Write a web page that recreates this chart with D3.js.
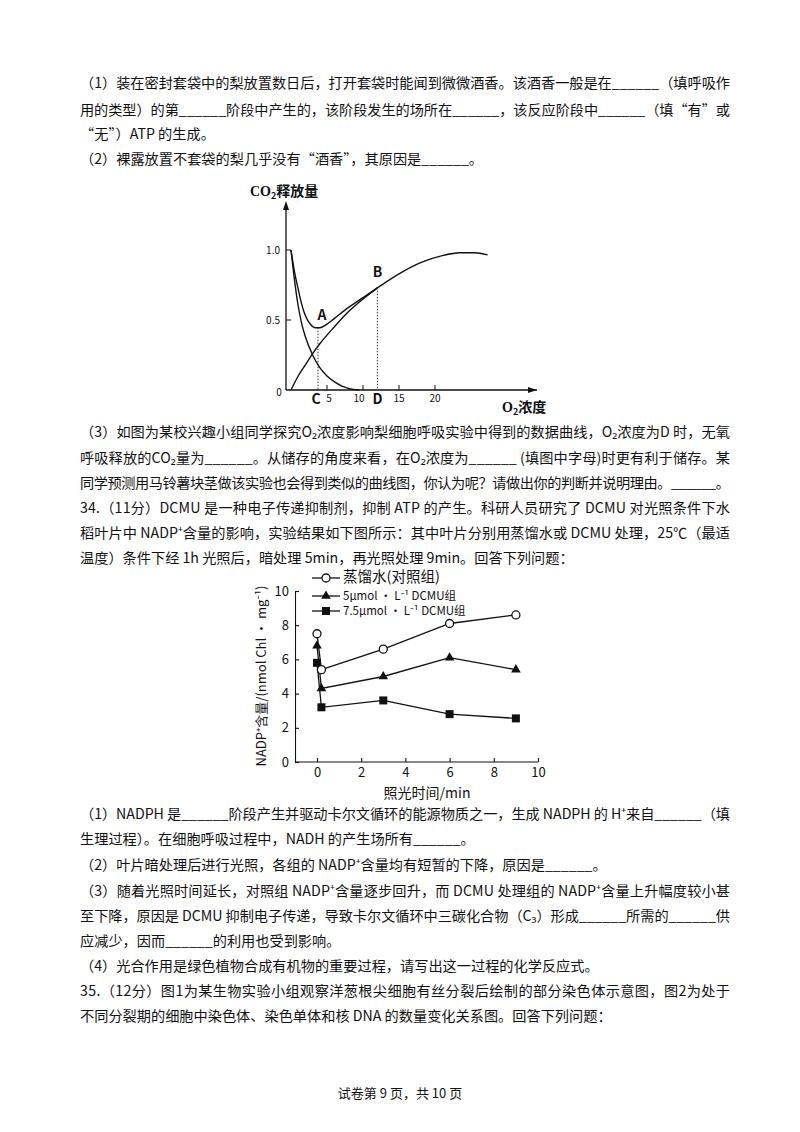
<!DOCTYPE html>
<html><head><meta charset="utf-8">
<script src="https://cdn.jsdelivr.net/npm/d3@7"></script>
<style>body{margin:0;background:#fff}svg{display:block}text{font-family:"Noto Sans CJK SC","Noto Sans",sans-serif;fill:#111}</style>
</head><body>
<script>
// ---------- page text ----------
const textLines = [
 [88,"（1）装在密封套袋中的梨放置数日后，打开套袋时能闻到微微酒香。该酒香一般是在______（填呼吸作",1],
 [115,"用的类型）的第______阶段中产生的，该阶段发生的场所在______，该反应阶段中______（填“有”或",1],
 [139,"“无”）ATP 的生成。",0],
 [164,"（2）裸露放置不套袋的梨几乎没有“酒香”，其原因是______。",0],
 [437,"（3）如图为某校兴趣小组同学探究O₂浓度影响梨细胞呼吸实验中得到的数据曲线，O₂浓度为D 时，无氧",1],
 [463,"呼吸释放的CO₂量为______。从储存的角度来看，在O₂浓度为______ (填图中字母)时更有利于储存。某",1],
 [488,"同学预测用马铃薯块茎做该实验也会得到类似的曲线图，你认为呢？请做出你的判断并说明理由。______。",1],
 [513,"34.（11分）DCMU 是一种电子传递抑制剂，抑制 ATP 的产生。科研人员研究了 DCMU 对光照条件下水",1],
 [538,"稻叶片中 NADP⁺含量的影响，实验结果如下图所示：其中叶片分别用蒸馏水或 DCMU 处理，25℃（最适",1],
 [563,"温度）条件下经 1h 光照后，暗处理 5min，再光照处理 9min。回答下列问题：",0],
 [819,"（1）NADPH 是______阶段产生并驱动卡尔文循环的能源物质之一，生成 NADPH 的 H⁺来自______（填",1],
 [844,"生理过程）。在细胞呼吸过程中，NADH 的产生场所有______。",0],
 [870,"（2）叶片暗处理后进行光照，各组的 NADP⁺含量均有短暂的下降，原因是______。",0],
 [896,"（3）随着光照时间延长，对照组 NADP⁺含量逐步回升，而 DCMU 处理组的 NADP⁺含量上升幅度较小甚",1],
 [921,"至下降，原因是 DCMU 抑制电子传递，导致卡尔文循环中三碳化合物（C₃）形成______所需的______供",1],
 [946,"应减少，因而______的利用也受到影响。",0],
 [971,"（4）光合作用是绿色植物合成有机物的重要过程，请写出这一过程的化学反应式。",0],
 [996,"35.（12分）图1为某生物实验小组观察洋葱根尖细胞有丝分裂后绘制的部分染色体示意图，图2为处于",1],
 [1021,"不同分裂期的细胞中染色体、染色单体和核 DNA 的数量变化关系图。回答下列问题：",0]
];
// ---------- chart 1 data ----------
const c1Ticks = [5,10,15,20];
const c1Total = [[0,1.0],[0.5,0.84],[1,0.72],[1.5,0.61],[2,0.53],[2.7,0.47],[3.4,0.445],[4,0.445],[5,0.47],[6,0.51],[8,0.59],[10,0.66],[12,0.73],[15,0.83],[18,0.91],[21,0.96],[23.5,0.98],[25.5,0.98],[27.3,0.965]];
const c1Anaer = [[0,1.0],[0.5,0.78],[1,0.6],[1.5,0.47],[2,0.38],[3,0.25],[4,0.16],[5,0.1],[6,0.06],[7,0.03],[8,0.012],[9.5,0]];
const c1Aer = [[0,0],[1,0.1],[2,0.18],[3,0.26],[4,0.33],[6,0.45],[8,0.56],[10,0.65],[12,0.73]];
// ---------- chart 2 data ----------
const times = [0,0.2,3,6,9];
const sControl = [7.5,5.4,6.6,8.1,8.6];
const s5 = [6.8,4.3,5.0,6.1,5.4];
const s75 = [5.8,3.2,3.6,2.8,2.55];
const xTicks2 = [0,2,4,6,8,10];
const yTicks2 = [0,2,4,6,8,10];

const svg = d3.select("body").append("svg").attr("width",800).attr("height",1132);

textLines.forEach(([y,t,j])=>{
  const el = svg.append("text").attr("x",80).attr("y",y).attr("font-size",14.2).text(t);
  if(j) el.attr("textLength",650).attr("lengthAdjust","spacing");
});
svg.append("text").attr("x",400).attr("y",1098).attr("text-anchor","middle").attr("font-size",13).text("试卷第 9 页，共 10 页");

// ===== chart 1 =====
const g1 = svg.append("g");
const x1 = d3.scaleLinear().domain([0,10]).range([291,363]);
const y1 = d3.scaleLinear().domain([0,1]).range([390,250]);
const ox = 286;
g1.append("line").attr("x1",ox).attr("x2",537).attr("y1",390).attr("y2",390).attr("stroke","#111").attr("stroke-width",1.3);
g1.append("line").attr("x1",ox).attr("x2",ox).attr("y1",390).attr("y2",204).attr("stroke","#111").attr("stroke-width",1.3);
g1.append("path").attr("d",`M537,390 l-9,-3 l0,6 z`).attr("fill","#111");
g1.append("path").attr("d",`M${ox},201 l-3,9 l6,0 z`).attr("fill","#111");
[0.5,1.0].forEach(v=>{
  g1.append("line").attr("x1",ox).attr("x2",ox+5).attr("y1",y1(v)).attr("y2",y1(v)).attr("stroke","#111");
  g1.append("text").attr("x",ox-6).attr("y",y1(v)+4).attr("text-anchor","end").attr("font-size",10).attr("font-family","Liberation Serif").text(v.toFixed(1));
});
g1.append("text").attr("x",279).attr("y",396).attr("text-anchor","middle").attr("font-size",10).attr("font-family","Liberation Serif").text("0");
c1Ticks.forEach(v=>{
  g1.append("line").attr("x1",x1(v)).attr("x2",x1(v)).attr("y1",390).attr("y2",385).attr("stroke","#111");
  g1.append("text").attr("x",x1(v)+(v==10?-4:(v==5?2:0))).attr("y",402).attr("text-anchor","middle").attr("font-size",10).attr("font-family","Liberation Serif").text(v);
});
const line1 = d3.line().x(d=>x1(d[0])).y(d=>y1(d[1])).curve(d3.curveMonotoneX);
[c1Total,c1Anaer,c1Aer].forEach(s=>g1.append("path").attr("d",line1(s)).attr("fill","none").attr("stroke","#111").attr("stroke-width",1.4));
[[3.75,0.445],[12,0.73]].forEach(([xv,yv])=>g1.append("line").attr("x1",x1(xv)).attr("x2",x1(xv)).attr("y1",y1(yv)).attr("y2",390).attr("stroke","#333").attr("stroke-dasharray","1.5,1.5"));
const bold = (x,y,t)=>g1.append("text").attr("x",x).attr("y",y).attr("text-anchor","middle").attr("font-size",14).attr("font-weight","bold").attr("font-family","Liberation Serif").text(t);
bold(x1(3.75)+4,y1(0.445)-8,"A");
bold(x1(12),y1(0.73)-11,"B");
bold(x1(3.75)-2,404,"C");
bold(x1(12),404,"D");
const t1 = g1.append("text").attr("x",250).attr("y",196).attr("font-size",14).attr("font-weight","bold");
t1.append("tspan").attr("font-family","Liberation Serif").text("CO");
t1.append("tspan").attr("font-size",9).attr("dy",3).text("2");
t1.append("tspan").attr("dy",-3).text("释放量");
const t2 = g1.append("text").attr("x",502).attr("y",412).attr("font-size",14).attr("font-weight","bold");
t2.append("tspan").attr("font-family","Liberation Serif").text("O");
t2.append("tspan").attr("font-size",9).attr("dy",3).text("2");
t2.append("tspan").attr("dy",-3).text("浓度");

// ===== chart 2 =====
const g2 = svg.append("g");
const x2 = d3.scaleLinear().domain([0,10]).range([317,538]);
const y2 = d3.scaleLinear().domain([0,10]).range([762,591]);
g2.append("g").attr("transform","translate(0,762)").call(d3.axisBottom(x2).tickValues(xTicks2).tickSize(-4).tickPadding(6).tickSizeOuter(0))
  .call(a=>a.select(".domain").attr("d","M295,0H538"));
g2.append("g").attr("transform","translate(295,0)").call(d3.axisLeft(y2).tickValues(yTicks2).tickSize(-4).tickPadding(6).tickSizeOuter(0));
g2.selectAll(".tick text").attr("font-size",13).attr("font-family","Liberation Serif").attr("fill","#111");
g2.selectAll(".domain,.tick line").attr("stroke","#111").attr("stroke-width",1.1);
const line2 = d3.line().x((d,i)=>x2(times[i])).y(d=>y2(d));
const series = [[sControl,"circle"],[s5,"tri"],[s75,"sq"]];
series.forEach(([s,m])=>{
  g2.append("path").attr("d",line2(s)).attr("fill","none").attr("stroke","#111").attr("stroke-width",1.3);
});
function marker(g,m,x,y){
  if(m=="circle") g.append("circle").attr("cx",x).attr("cy",y).attr("r",4).attr("fill","#fff").attr("stroke","#111").attr("stroke-width",1.3);
  else if(m=="tri") g.append("path").attr("d",d3.symbol(d3.symbolTriangle,40)()).attr("transform",`translate(${x},${y})`).attr("fill","#111");
  else g.append("rect").attr("x",x-4).attr("y",y-4).attr("width",8).attr("height",8).attr("fill","#111");
}
series.slice().reverse().forEach(([s,m])=>s.forEach((v,i)=>marker(g2,m,x2(times[i]),y2(v))));
const leg = [["蒸馏水(对照组)","circle",578,14.5],["5μmol · L⁻¹ DCMU组","tri",596,11.5],["7.5μmol · L⁻¹ DCMU组","sq",611,11.5]];
leg.forEach(([t,m,y,fs])=>{
  g2.append("line").attr("x1",312).attr("x2",340).attr("y1",y).attr("y2",y).attr("stroke","#111").attr("stroke-width",1.3);
  marker(g2,m,326,y);
  g2.append("text").attr("x",343).attr("y",y+4).attr("font-size",fs).attr("font-family","Liberation Serif, Noto Sans CJK SC").text(t);
});
g2.append("text").attr("x",427).attr("y",798).attr("text-anchor","middle").attr("font-size",14).text("照光时间/min");
g2.append("text").attr("transform","translate(266,676) rotate(-90)").attr("text-anchor","middle").attr("font-size",13).attr("font-family","Liberation Serif, Noto Sans CJK SC").text("NADP⁺含量/(nmol Chl · mg⁻¹)");
</script>
</body></html>
